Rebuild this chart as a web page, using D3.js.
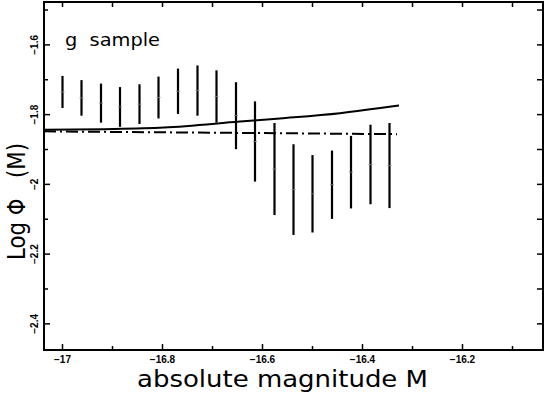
<!DOCTYPE html>
<html>
<head>
  <meta charset="utf8" />
  <style>
    body { margin: 0; background: #fff; }
    text { font-family: "DejaVu Sans", sans-serif; fill: #000; }
    .tick-label { font-family: "Liberation Sans", Arial, sans-serif; font-weight: bold; font-size: 10px; }
  </style>
</head>
<body>
  <script src="https://d3js.org/d3.v7.min.js"></script>
  <script>
    // error bar data: magnitude, log phi, half error
    var mags = [-17.000, -16.962, -16.923, -16.885, -16.846, -16.808, -16.769, -16.730, -16.692,
                -16.653, -16.615, -16.576, -16.538, -16.500, -16.461, -16.423, -16.384, -16.346];
    var logPhi = [-1.735, -1.752, -1.767, -1.778, -1.770, -1.751, -1.733, -1.731, -1.748,
                  -1.803, -1.877, -1.956, -2.015, -2.027, -2.001, -1.965, -1.943, -1.946];
    var errs = [0.046, 0.051, 0.056, 0.057, 0.057, 0.060, 0.065, 0.072, 0.075,
                0.096, 0.115, 0.132, 0.130, 0.111, 0.098, 0.104, 0.114, 0.122];

    // solid fit curve
    var fitM = [-17.037, -16.917, -16.797, -16.645, -16.565, -16.445, -16.327];
    var fitPhi = [-1.8437, -1.8417, -1.8371, -1.8199, -1.8108, -1.7958, -1.7741];

    // dash-dot line
    var flatM = [-17.037, -16.331];
    var flatPhi = [-1.848, -1.856];

    var xMajor = [-17, -16.8, -16.6, -16.4, -16.2];
    var xMinor = [-16.9, -16.7, -16.5, -16.3, -16.1];
    var yMajor = [-1.6, -1.8, -2, -2.2, -2.4];
    var yMinor = [-1.5, -1.7, -1.9, -2.1, -2.3];

    var width = 545, height = 393;
    var pL = 44, pR = 543, pT = 2, pB = 350;

    var x = d3.scaleLinear().domain([-17.037, -16.039]).range([pL, pR]);
    var y = d3.scaleLinear().domain([-2.475, -1.477]).range([pB, pT]);

    var svg = d3.select("body").append("svg")
        .attr("width", width).attr("height", height);

    var fmt = d => d3.format("")(d);

    // frame
    svg.append("rect")
        .attr("x", pL).attr("y", pT)
        .attr("width", pR - pL).attr("height", pB - pT)
        .attr("fill", "none").attr("stroke", "#000").attr("stroke-width", 2);

    // ticks on all four sides
    var allX = xMajor.concat(xMinor);
    svg.selectAll(".xb").data(allX).enter().append("line")
        .attr("x1", d => x(d)).attr("x2", d => x(d))
        .attr("y1", pB).attr("y2", d => pB - (xMajor.includes(d) ? 6 : 4))
        .attr("stroke", "#000").attr("stroke-width", 1.5);
    svg.selectAll(".xt").data(allX).enter().append("line")
        .attr("x1", d => x(d)).attr("x2", d => x(d))
        .attr("y1", pT).attr("y2", pT + 5)
        .attr("stroke", "#000").attr("stroke-width", 1.5);

    var allY = yMajor.concat(yMinor);
    svg.selectAll(".yl").data(allY).enter().append("line")
        .attr("y1", d => y(d)).attr("y2", d => y(d))
        .attr("x1", pL).attr("x2", d => pL + (yMajor.includes(d) ? 6 : 4))
        .attr("stroke", "#000").attr("stroke-width", 1.5);
    svg.selectAll(".yr").data(allY).enter().append("line")
        .attr("y1", d => y(d)).attr("y2", d => y(d))
        .attr("x1", pR).attr("x2", pR - 6)
        .attr("stroke", "#000").attr("stroke-width", 1.5);

    // tick labels
    svg.selectAll(".xlab").data(xMajor).enter().append("text")
        .attr("class", "tick-label")
        .attr("x", d => x(d)).attr("y", 363)
        .attr("text-anchor", "middle")
        .text(fmt);

    svg.selectAll(".ylab").data(yMajor).enter().append("text")
        .attr("class", "tick-label")
        .attr("transform", d => "translate(38," + y(d) + ") rotate(-90)")
        .attr("text-anchor", "middle")
        .text(fmt);

    // axis titles
    svg.append("text")
        .attr("x", 137).attr("y", 387)
        .attr("font-size", 23)
        .attr("textLength", 291).attr("lengthAdjust", "spacingAndGlyphs")
        .text("absolute magnitude M");

    svg.append("text")
        .attr("transform", "translate(25,260) rotate(-90)")
        .attr("font-size", 24)
        .attr("textLength", 117).attr("lengthAdjust", "spacingAndGlyphs")
        .attr("xml:space", "preserve")
        .text("Log \u03a6   (M)");

    svg.append("text")
        .attr("x", 65).attr("y", 46)
        .attr("font-size", 17)
        .attr("textLength", 95).attr("lengthAdjust", "spacingAndGlyphs")
        .attr("xml:space", "preserve")
        .text("g  sample");

    // lines
    svg.append("path")
        .datum(d3.zip(fitM, fitPhi))
        .attr("d", d3.line().x(d => x(d[0])).y(d => y(d[1])).curve(d3.curveMonotoneX))
        .attr("fill", "none").attr("stroke", "#000").attr("stroke-width", 2);

    svg.append("path")
        .datum(d3.zip(flatM, flatPhi))
        .attr("d", d3.line().x(d => x(d[0])).y(d => y(d[1])))
        .attr("fill", "none").attr("stroke", "#000").attr("stroke-width", 2)
        .attr("stroke-dasharray", "12,4,2,4");

    // error bars
    var pts = d3.zip(mags, logPhi, errs);
    svg.selectAll(".bar").data(pts).enter().append("line")
        .attr("x1", d => x(d[0])).attr("x2", d => x(d[0]))
        .attr("y1", d => y(d[1] + d[2])).attr("y2", d => y(d[1] - d[2]))
        .attr("stroke", "#000").attr("stroke-width", 2.2);
    svg.selectAll(".mid").data(pts).enter().append("line")
        .attr("x1", d => x(d[0]) - 2).attr("x2", d => x(d[0]) + 2)
        .attr("y1", d => y(d[1])).attr("y2", d => y(d[1]))
        .attr("stroke", "#888").attr("stroke-width", 0.8);
  </script>
</body>
</html>
